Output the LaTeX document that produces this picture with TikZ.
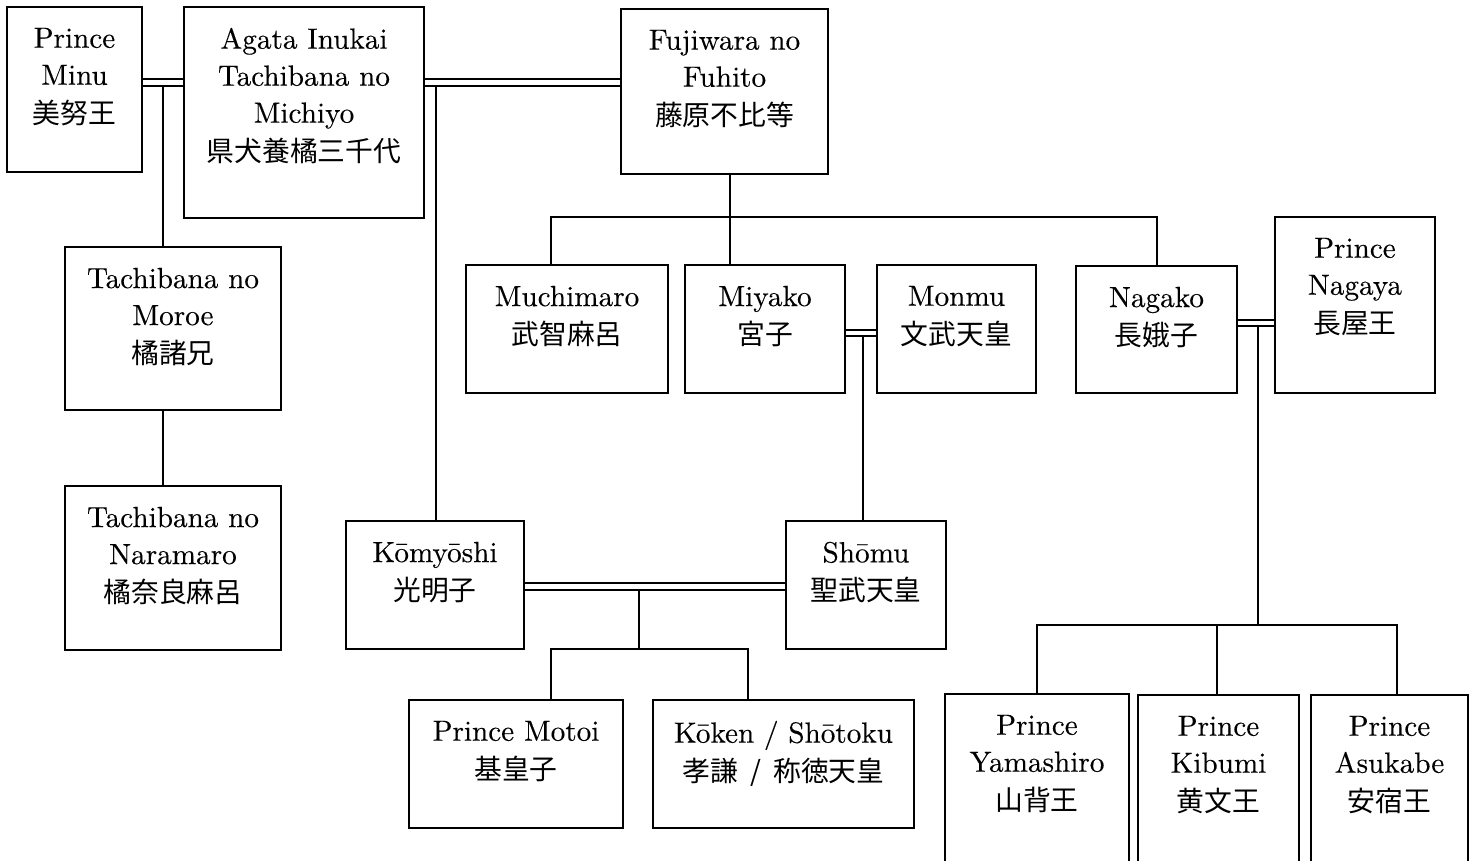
\documentclass[tikz,border=0pt]{standalone}
\usepackage{fontspec}
\setmainfont{lmroman10-regular.otf}[FakeBold=0.2]
\newfontfamily\jpf{Noto Sans CJK JP}
\newcommand\jp[1]{{\jpf\fontsize{13.9}{18.5}\selectfont\raisebox{-0.8pt}{#1}}}
\tikzset{
  gbox/.style={draw, rectangle, line width=0.65pt, inner sep=0pt, outer sep=0pt},
  gtext/.style={align=center, inner sep=0pt, outer sep=0pt, font=\fontsize{14.6}{18.5}\selectfont},
  conn/.style={line width=0.65pt}
}
\newcommand\gbox[6]{%
  \pgfmathsetmacro\gbw{(#4-#2)*0.5}%
  \pgfmathsetmacro\gbh{(#5-#3)*0.5}%
  \node[gbox, minimum width=\gbw pt, minimum height=\gbh pt] (#1) at ({(#2+#4)/2},{(#3+#5)/2}) {};
  \node[gtext, anchor=north] (#1-t) at ([yshift=-10.4pt]#1.north) {#6};
}
\begin{document}
\begin{tikzpicture}[x=0.5pt, y=-0.5pt]
\useasboundingbox (0,0) rectangle (1479,861);
\clip (0,0) rectangle (1479,861);
\fill[white] (0,0) rectangle (1479,861);

\gbox{minu}{7}{7}{142}{172}{Prince\\Minu\\\jp{美努王}}
\gbox{agata}{184}{7}{424}{218}{Agata Inukai\\Tachibana no\\Michiyo\\\jp{県犬養橘三千代}}
\gbox{fuhito}{621}{9}{828}{174}{Fujiwara no\\Fuhito\\\jp{藤原不比等}}
\gbox{moroe}{65}{247}{281}{410}{Tachibana no\\Moroe\\\jp{橘諸兄}}
\gbox{naramaro}{65}{486}{281}{650}{Tachibana no\\Naramaro\\\jp{橘奈良麻呂}}
\gbox{muchimaro}{466}{265}{668}{393}{Muchimaro\\\jp{武智麻呂}}
\gbox{miyako}{685}{265}{845}{393}{Miyako\\\jp{宮子}}
\gbox{monmu}{877}{265}{1036}{393}{Monmu\\\jp{文武天皇}}
\gbox{nagako}{1076}{266}{1237}{393}{Nagako\\\jp{長娥子}}
\gbox{nagaya}{1275}{217}{1435}{393}{Prince\\Nagaya\\\jp{長屋王}}
\gbox{komyoshi}{346}{521}{524}{649}{Kōmyōshi\\\jp{光明子}}
\gbox{shomu}{786}{521}{946}{649}{Shōmu\\\jp{聖武天皇}}
\gbox{motoi}{409}{700}{623}{828}{Prince Motoi\\\jp{基皇子}}
\gbox{koken}{653}{700}{914}{828}{Kōken / Shōtoku\\\jp{孝謙\hspace{3pt} / \hspace{3pt}称徳天皇}}
\gbox{yamashiro}{945}{694}{1129}{880}{Prince\\Yamashiro\\\jp{山背王}}
\gbox{kibumi}{1138}{695}{1299}{880}{Prince\\Kibumi\\\jp{黄文王}}
\gbox{asukabe}{1311}{695}{1468}{880}{Prince\\Asukabe\\\jp{安宿王}}

% Minu = Agata
\draw[conn] (minu.east |- 0,79) -- (agata.west |- 0,79);
\draw[conn] (minu.east |- 0,86) -- (agata.west |- 0,86);
\coordinate (m1) at (163,86);
\draw[conn] (m1) -- (m1 |- moroe.north);
\draw[conn] (moroe.south -| m1) -- (naramaro.north -| m1);

% Agata = Fuhito
\draw[conn] (agata.east |- 0,79) -- (fuhito.west |- 0,79);
\draw[conn] (agata.east |- 0,86) -- (fuhito.west |- 0,86);
\coordinate (m2) at (436,86);
\draw[conn] (m2) -- (m2 |- komyoshi.north);

% Fuhito children
\coordinate (f1) at (730,217);
\coordinate (fa) at (551,217);
\coordinate (fc) at (1157,217);
\draw[conn] (fuhito.south -| f1) -- (f1 |- miyako.north);
\draw[conn] (fa |- muchimaro.north) -- (fa) -- (fc) -- (fc |- nagako.north);

% Miyako = Monmu
\draw[conn] (miyako.east |- 0,330) -- (monmu.west |- 0,330);
\draw[conn] (miyako.east |- 0,336) -- (monmu.west |- 0,336);
\coordinate (m3) at (863,336);
\draw[conn] (m3) -- (m3 |- shomu.north);

% Nagako = Nagaya
\draw[conn] (nagako.east |- 0,320) -- (nagaya.west |- 0,320);
\draw[conn] (nagako.east |- 0,326) -- (nagaya.west |- 0,326);
\coordinate (m4) at (1258,326);
\coordinate (na) at (1037,625);
\coordinate (nb) at (1217,625);
\coordinate (nc) at (1397,625);
\draw[conn] (m4) -- (m4 |- na);
\draw[conn] (na |- yamashiro.north) -- (na) -- (nc) -- (nc |- asukabe.north);
\draw[conn] (nb) -- (nb |- kibumi.north);

% Komyoshi = Shomu
\draw[conn] (komyoshi.east |- 0,583) -- (shomu.west |- 0,583);
\draw[conn] (komyoshi.east |- 0,590) -- (shomu.west |- 0,590);
\coordinate (m5) at (639,590);
\coordinate (ka) at (551,649);
\coordinate (kb) at (748,649);
\draw[conn] (m5) -- (m5 |- ka);
\draw[conn] (ka |- motoi.north) -- (ka) -- (kb) -- (kb |- koken.north);
\end{tikzpicture}
\end{document}
